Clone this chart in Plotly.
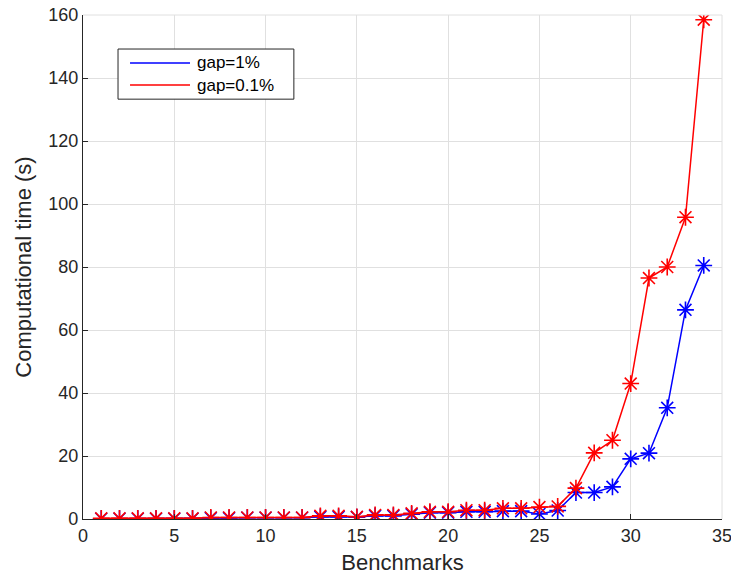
import plotly.graph_objects as go

benchmarks = list(range(1, 35))
gap_1 = [0.1, 0.1, 0.1, 0.1, 0.1, 0.1, 0.3, 0.3, 0.4, 0.4, 0.4, 0.4, 0.7, 0.7, 0.6, 1.0, 1.0,
         1.5, 2.0, 2.0, 2.3, 2.3, 2.5, 2.5, 1.6, 2.7, 8.4, 8.4, 10.2, 19.1, 20.9, 35.3, 66.4, 80.5]
gap_01 = [0.2, 0.2, 0.2, 0.2, 0.2, 0.2, 0.5, 0.5, 0.5, 0.5, 0.5, 0.5, 1.0, 1.0, 0.7, 1.3, 1.3,
          1.8, 2.3, 2.3, 2.8, 2.8, 3.4, 3.4, 3.8, 4.0, 9.8, 21.0, 25.0, 43.0, 76.5, 80.0, 95.8, 158.5]
series_names = ["gap=1%", "gap=0.1%"]
colors = ["#0000FF", "#FF0000"]

FONT = "Liberation Sans, Arial, sans-serif"

fig = go.Figure()
for name, vals, col in zip(series_names, [gap_1, gap_01], colors):
    fig.add_trace(go.Scatter(
        x=benchmarks, y=vals, mode="lines+markers", name=name, showlegend=False,
        line=dict(color=col, width=1.5),
        marker=dict(symbol="asterisk-open", size=14, line=dict(color=col, width=1.6)),
    ))

axis_common = dict(
    showgrid=True, gridcolor="#E0E0E0", gridwidth=1,
    zeroline=False, showline=True, linecolor="#262626", linewidth=1.3,
    ticks="inside", ticklen=5, tickcolor="#262626",
    tickfont=dict(family=FONT, size=18, color="#262626"),
    title_font=dict(family=FONT, size=22, color="#262626"),
    mirror=False, automargin=False, ticklabeloverflow="allow",
)

fig.update_layout(
    width=731, height=578,
    margin=dict(l=83, r=9, t=15, b=59),
    plot_bgcolor="white", paper_bgcolor="white",
    showlegend=False,
    xaxis=dict(range=[0, 35], dtick=5, title=dict(text="Benchmarks", standoff=9), **axis_common),
    yaxis=dict(range=[0, 160], dtick=20, title=dict(text="Computational time (s)", standoff=10), **axis_common),
)

# light top/right box edges (grid-coloured)
fig.add_shape(type="line", xref="paper", yref="paper", x0=0, x1=1, y0=1, y1=1,
              line=dict(color="#E0E0E0", width=1))
fig.add_shape(type="line", xref="paper", yref="paper", x0=1, x1=1, y0=0, y1=1,
              line=dict(color="#E0E0E0", width=1))

# legend box (MATLAB style)
fig.add_shape(type="rect", xref="paper", yref="paper", x0=0.0548, x1=0.330, y0=0.833, y1=0.9325,
              line=dict(color="#262626", width=1), fillcolor="white", layer="above")
leg_y = [0.905, 0.861]
for name, col, ly in zip(series_names, colors, leg_y):
    fig.add_shape(type="line", xref="paper", yref="paper", x0=0.0736, x1=0.1675, y0=ly, y1=ly,
                  line=dict(color=col, width=1.5), layer="above")
    fig.add_annotation(text=name, xref="paper", yref="paper", x=0.176, y=ly,
                       xanchor="left", yanchor="middle", showarrow=False,
                       font=dict(family=FONT, size=17, color="black"))

fig.write_html("out.html", config={"displayModeBar": False},
               post_script="document.body.style.margin='0';")
